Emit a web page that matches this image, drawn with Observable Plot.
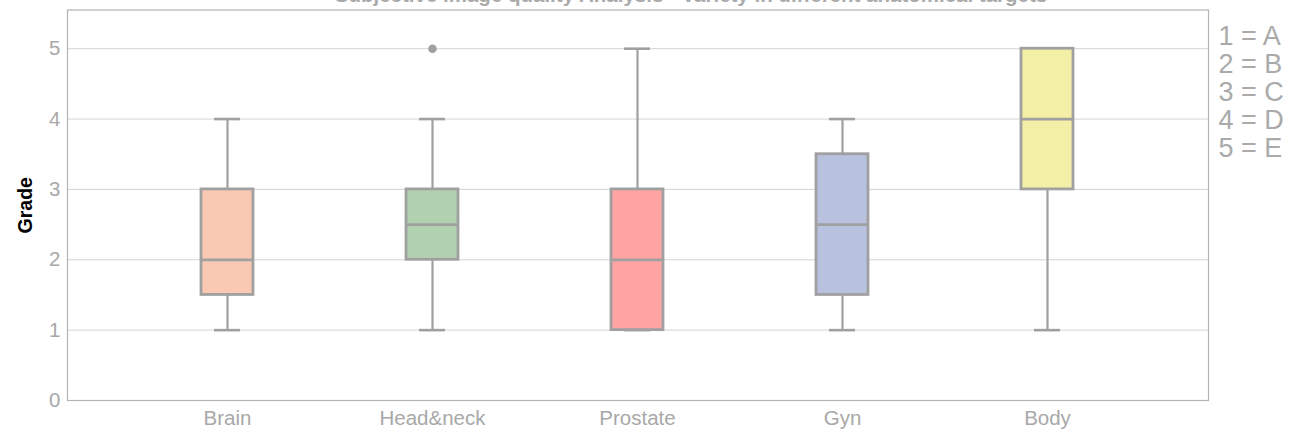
<!DOCTYPE html>
<html>
<head>
<meta charset="utf-8">
<script src="https://cdn.jsdelivr.net/npm/d3@7"></script>
<script src="https://cdn.jsdelivr.net/npm/@observablehq/plot@0.6"></script>
<style>
  html, body { margin: 0; padding: 0; background: #fff; }
  #chart svg { display: block; }
</style>
</head>
<body>
<div id="chart"></div>
<script>
const categories = ["Brain", "Head&neck", "Prostate", "Gyn", "Body"];
const mins    = [1, 1, 1, 1, 1];
const q1s     = [1.5, 2, 1, 1.5, 3];
const medians = [2, 2.5, 2, 2.5, 4];
const q3s     = [3, 3, 3, 3.5, 5];
const maxs    = [4, 4, 5, 4, 5];
const colors  = ["#f9c9b3", "#b2d1b1", "#ffa3a3", "#b8c2de", "#f3efa6"];
const outliers = [{cat: "Head&neck", value: 5}];
const yTicks = [0, 1, 2, 3, 4, 5];
const legendLines = ["1 = A", "2 = B", "3 = C", "4 = D", "5 = E"];
const titleText = "Subjective image quality Analysis - Variety in different anatomical targets";

const stats = categories.map((c, i) => ({
  cat: c, min: mins[i], q1: q1s[i], med: medians[i], q3: q3s[i], max: maxs[i], color: colors[i]
}));

const gray = "#a0a0a0";
const font = "'Liberation Sans', Arial, sans-serif";

const chart = Plot.plot({
  width: 1291,
  height: 431,
  marginLeft: 67,
  marginRight: 83,
  marginTop: 9.5,
  marginBottom: 31,
  style: { fontFamily: font, background: "#fff", overflow: "visible" },
  x: { type: "band", domain: categories, paddingInner: 0.746, paddingOuter: 0.654, label: null },
  y: { domain: [0, 5.55], label: null },
  color: { type: "identity" },
  marks: [
    Plot.ruleY(yTicks.filter(d => d > 0), { stroke: "#d4d4d4", strokeWidth: 1 }),
    Plot.frame({ stroke: "#b4b4b4", strokeWidth: 1.2 }),
    Plot.axisY({ ticks: yTicks, tickFormat: d3.format("d"), tickSize: 0, tickPadding: 7, fontSize: 20.5, fill: "#a8a8a8", label: null }),
    Plot.axisX({ tickSize: 0, tickPadding: 10, fontSize: 20.5, fill: "#a8a8a8", label: null }),
    Plot.ruleX(stats, { x: "cat", y1: "q3", y2: "max", stroke: gray, strokeWidth: 2.2 }),
    Plot.ruleX(stats, { x: "cat", y1: "min", y2: "q1", stroke: gray, strokeWidth: 2.2 }),
    Plot.tickY(stats, { x: "cat", y: "max", stroke: gray, strokeWidth: 2.6, insetLeft: 13, insetRight: 13 }),
    Plot.tickY(stats, { x: "cat", y: "min", stroke: gray, strokeWidth: 2.6, insetLeft: 13, insetRight: 13 }),
    Plot.barY(stats, { x: "cat", y1: "q1", y2: "q3", fill: "color", stroke: gray, strokeWidth: 2.8 }),
    Plot.tickY(stats, { x: "cat", y: "med", stroke: gray, strokeWidth: 2.8 }),
    Plot.dot(outliers, { x: "cat", y: "value", r: 3.5, fill: gray, stroke: gray }),
    Plot.text(["Grade"], { frameAnchor: "left", dx: -42, rotate: -90, textAnchor: "middle", lineAnchor: "middle", text: d => d, fontSize: 19.5, fontWeight: "bold", fill: "#000" }),
    Plot.text([titleText], { frameAnchor: "top", dx: 53, dy: -8.5, lineAnchor: "bottom", text: d => d, fontSize: 20.5, fontWeight: "bold", fill: "#aaaaaa" }),
    Plot.text([legendLines.join("\n")], { frameAnchor: "top-right", dx: 10, dy: 15, textAnchor: "start", lineAnchor: "top", lineHeight: 1.04, text: d => d, fontSize: 27, fill: "#aaaaaa" })
  ]
});
document.getElementById("chart").appendChild(chart);
</script>
</body>
</html>
